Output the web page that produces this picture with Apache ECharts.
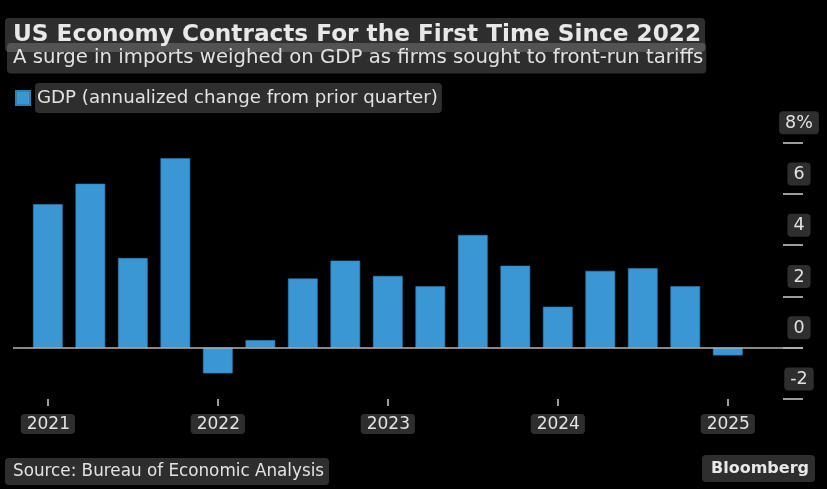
<!DOCTYPE html>
<html>
<head>
<meta charset="utf-8">
<style>
html,body{margin:0;padding:0;background:#000;}
#chart{width:827px;height:489px;}
</style>
<script src="https://cdn.jsdelivr.net/npm/echarts@6/dist/echarts.min.js"></script>
</head>
<body>
<div id="chart"></div>
<script>
const titleText = 'US Economy Contracts For the First Time Since 2022';
const subtitleText = 'A surge in imports weighed on GDP as firms sought to front-run tariffs';
const sourceText = 'Source: Bureau of Economic Analysis';
const seriesName = 'GDP (annualized change from prior quarter)';
const quarters = ['2021 Q1','2021 Q2','2021 Q3','2021 Q4','2022 Q1','2022 Q2','2022 Q3','2022 Q4','2023 Q1','2023 Q2','2023 Q3','2023 Q4','2024 Q1','2024 Q2','2024 Q3','2024 Q4','2025 Q1'];
const gdp = [5.6, 6.4, 3.5, 7.4, -1.0, 0.3, 2.7, 3.4, 2.8, 2.4, 4.4, 3.2, 1.6, 3.0, 3.1, 2.4, -0.3];
const yearTickIdx = [0, 4, 8, 12, 16];
const yearLabels = ['2021', '2022', '2023', '2024', '2025'];
const yTicks = [-2, 0, 2, 4, 6, 8];

const FONT = 'DejaVu Sans, sans-serif';
const BOX = 'rgba(255,255,255,0.18)';
const TXT = '#e2e2e2';

const chart = echarts.init(document.getElementById('chart'));
chart.setOption({
  backgroundColor: '#000',
  animation: false,
  title: [
    {text: titleText, left: 5, top: 18, padding: [3, 4, 3, 8], backgroundColor: BOX, borderRadius: 4,
     textStyle: {fontFamily: FONT, fontSize: 23.2, lineHeight: 28, fontWeight: 'bold', color: '#e8e8e8'}},
    {text: subtitleText, left: 7, top: 43, padding: [3, 3, 3, 6], backgroundColor: BOX, borderRadius: 4,
     textStyle: {fontFamily: FONT, fontSize: 19.7, lineHeight: 24.5, fontWeight: 'normal', color: TXT}},
    {text: sourceText, left: 5, top: 458, padding: [4, 5, 4, 8], backgroundColor: BOX, borderRadius: 4,
     textStyle: {fontFamily: FONT, fontSize: 16.8, lineHeight: 19, fontWeight: 'normal', color: TXT}},
    {text: 'Bloomberg', left: 702, top: 455, padding: [4, 6, 4, 9], backgroundColor: BOX, borderRadius: 4,
     textStyle: {fontFamily: FONT, fontSize: 16, lineHeight: 19, fontWeight: 'bold', color: '#e8e8e8'}}
  ],
  legend: {
    left: 15, top: 83, padding: 0, itemWidth: 14, itemHeight: 14, icon: 'rect',
    data: [seriesName],
    textStyle: {fontFamily: FONT, fontSize: 18.2, lineHeight: 22, color: TXT, backgroundColor: BOX, borderRadius: 4, padding: [4, 4, 4, 2]}
  },
  grid: {left: 13, right: 24, top: 142.7, bottom: 90},
  xAxis: {
    type: 'value', min: -0.82, max: 17.77, position: 'bottom',
    axisLine: {show: false, onZero: false},
    splitLine: {show: false},
    axisTick: {show: true, length: 7, customValues: yearTickIdx, lineStyle: {color: '#cfcfcf', width: 1.5}},
    axisLabel: {
      customValues: yearTickIdx, margin: 15,
      formatter: v => yearLabels[yearTickIdx.indexOf(Math.round(v))] || '',
      fontFamily: FONT, fontSize: 17, color: TXT,
      backgroundColor: BOX, borderRadius: 4, padding: [2, 5, 1, 6]
    }
  },
  yAxis: {
    type: 'value', position: 'right', min: -2, max: 8, interval: 2,
    axisLine: {show: false, onZero: false},
    splitLine: {show: false},
    axisTick: {show: true, inside: true, length: 20, lineStyle: {color: '#cfcfcf', width: 1.5}},
    axisLabel: {
      inside: false, margin: -4, align: 'center', verticalAlign: 'middle',
      padding: [0, 0, 40, 0],
      formatter: v => '{b|' + (v === 8 ? '8%' : String(v)) + '}',
      rich: {b: {fontFamily: FONT, fontSize: 17.5, color: TXT, backgroundColor: BOX, borderRadius: 4, padding: [3, 6, 2, 6]}}
    }
  },
  series: [{
    name: seriesName, type: 'bar', barWidth: 29.7,
    data: gdp.map((v, i) => [i, v]),
    itemStyle: {color: '#3a97d3', borderColor: '#2d7fb6', borderWidth: 0.6},
    markLine: {
      silent: true, symbol: ['none', 'none'], label: {show: false},
      lineStyle: {color: '#b5b5b5', width: 1.5, type: 'solid'},
      data: [{yAxis: 0}]
    }
  }]
});
</script>
</body>
</html>
